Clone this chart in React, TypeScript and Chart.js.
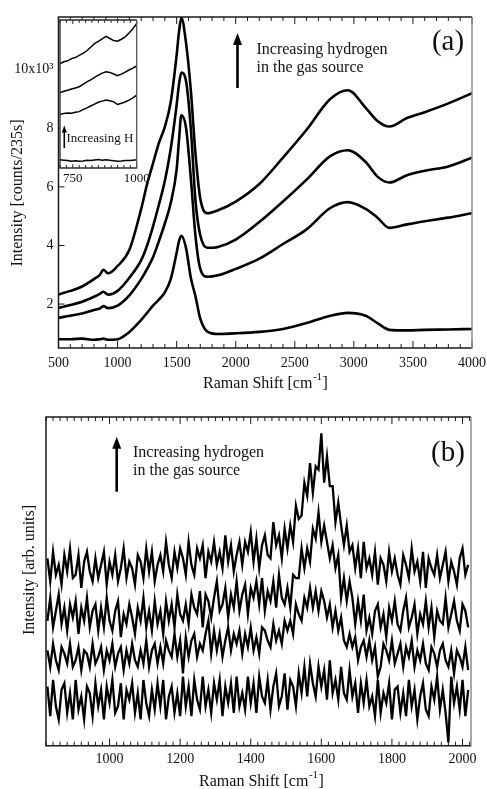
import React, { useEffect, useRef } from 'react';
import { Chart, registerables } from 'chart.js';
Chart.register(...registerables);

const SERIF = '"Liberation Serif", "DejaVu Serif", serif';

// ---------- Panel (a): Raman spectra, intensity in 10^3 counts / 235 s ----------
const SHIFT_A = [500, 600, 700, 800, 850, 880, 920, 1000, 1100, 1200, 1250, 1300, 1350, 1400, 1450, 1500, 1520, 1540, 1580, 1620, 1660, 1700, 1760, 1850, 2000, 2200, 2400, 2600, 2800, 2950, 3100, 3200, 3300, 3450, 3600, 3800, 4000];
const A1 = [2.33, 2.45, 2.6, 2.85, 3.0, 3.17, 3.05, 3.3, 3.85, 5.25, 6.1, 6.8, 7.5, 8.05, 8.9, 10.5, 11.3, 11.77, 10.9, 9.3, 7.1, 5.6, 5.1, 5.2, 5.5, 6.1, 7.0, 7.95, 9.0, 9.3, 8.7, 8.25, 8.06, 8.35, 8.55, 8.85, 9.2];
const A2 = [1.87, 1.97, 2.08, 2.25, 2.35, 2.42, 2.32, 2.45, 2.9, 3.5, 4.0, 4.65, 5.4, 6.2, 7.3, 8.8, 9.5, 9.9, 9.6, 8.0, 5.5, 4.35, 3.92, 3.95, 4.2, 4.8, 5.5, 6.25, 7.05, 7.25, 6.85, 6.35, 6.15, 6.4, 6.55, 6.7, 7.0];
const A3 = [1.53, 1.6, 1.68, 1.8, 1.85, 1.93, 1.86, 1.95, 2.3, 2.85, 3.2, 3.6, 4.15, 4.75, 5.45, 6.6, 7.6, 8.45, 8.0, 6.3, 4.3, 3.2, 2.93, 2.98, 3.2, 3.55, 4.05, 4.55, 5.28, 5.48, 5.25, 4.95, 4.6, 4.72, 4.83, 4.95, 5.1];
const A4 = [0.8, 0.8, 0.82, 0.78, 0.8, 0.82, 0.78, 0.8, 1.05, 1.46, 1.7, 1.95, 2.15, 2.4, 2.85, 3.75, 4.15, 4.33, 3.9, 2.9, 2.25, 1.5, 1.06, 0.98, 1.0, 1.05, 1.15, 1.35, 1.6, 1.7, 1.6, 1.35, 1.12, 1.1, 1.12, 1.13, 1.15];
const X_TICKS_A = [500, 1000, 1500, 2000, 2500, 3000, 3500, 4000];
const Y_TICKS_A = [2, 4, 6, 8, 10];
const Y_LABELS_A = ['2', '4', '6', '8', '10x10\u00B3'];

// ---------- Inset of panel (a): 700-1000 cm-1 ----------
const SHIFT_I = [700, 715, 730, 745, 760, 775, 790, 805, 820, 835, 850, 865, 880, 895, 910, 925, 940, 955, 970, 985, 1000];
const I1 = [70.5, 71.8, 72.4, 73.9, 74.6, 76.1, 77.4, 79.2, 81.6, 84.0, 85.6, 87.3, 88.9, 87.5, 86.1, 85.7, 87.0, 88.6, 91.2, 94.0, 97.6];
const I2 = [51.0, 51.9, 52.5, 53.4, 54.0, 54.9, 56.5, 58.2, 59.6, 61.3, 62.7, 64.1, 65.0, 64.6, 63.5, 62.3, 63.4, 64.8, 66.2, 67.5, 68.9];
const I3 = [36.2, 36.9, 37.2, 37.0, 37.6, 38.1, 39.4, 40.6, 41.9, 43.2, 44.4, 45.2, 45.9, 45.5, 44.7, 42.9, 43.8, 44.6, 45.9, 47.4, 49.2];
const I4 = [5.6, 5.3, 5.0, 4.6, 4.9, 4.5, 4.8, 5.2, 5.0, 5.4, 5.7, 5.3, 5.6, 5.2, 4.9, 4.6, 4.8, 5.1, 5.0, 5.3, 5.5];
const X_TICKS_I = [750, 1000];

// ---------- Panel (b): arb. units, sampled every 8 cm-1 from 824 cm-1 ----------
const B_START = 824;
const B_STEP = 8;
const B1 = [
  57, 50, 59, 52, 55, 49, 58, 53, 60, 51,
  52, 58, 48, 56, 59, 53, 50, 57, 51, 55,
  59, 49, 56, 52, 58, 50, 54, 60, 51, 56,
  54, 49, 58, 56, 51, 60, 53, 59, 50, 55,
  58, 53, 62, 55, 51, 59, 54, 60, 57, 52,
  62, 55, 52, 60, 57, 61, 51, 59, 56, 62,
  55, 59, 54, 64, 56, 61, 53, 58, 62, 55,
  62, 59, 65, 56, 63, 54, 61, 64, 58, 57,
  68, 61, 64, 57, 66, 60, 67, 62, 73, 69,
  70, 80, 76, 86, 77, 85, 84, 95, 80, 88,
  79, 79, 68, 74, 67, 61, 67, 59, 61, 54,
  60, 51, 62, 54, 57, 52, 59, 49, 57, 55,
  50, 59, 53, 57, 52, 49, 58, 55, 51, 60,
  53, 56, 50, 59, 48, 57, 54, 52, 58, 51,
  55, 59, 50, 56, 53, 49, 57, 60, 52, 55,
];
const B2 = [
  38, 45, 36, 41, 46, 37, 42, 35, 43, 39,
  44, 34, 42, 38, 45, 36, 41, 43, 35, 42,
  36, 45, 38, 35, 41, 44, 33, 40, 37, 43,
  39, 34, 42, 38, 45, 36, 41, 35, 44, 37,
  41, 34, 44, 38, 43, 36, 46, 40, 38, 43,
  37, 46, 42, 40, 47, 36, 46, 44, 39, 45,
  50, 41, 43, 48, 39, 46, 42, 50, 41, 46,
  49, 40, 48, 45, 50, 43, 51, 41, 47, 44,
  50, 42, 52, 45, 43, 48, 42, 52, 51, 51,
  60, 54, 60, 56, 66, 63, 71, 62, 67, 62,
  57, 61, 54, 58, 45, 51, 44, 50, 45, 37,
  44, 38, 46, 35, 39, 34, 41, 43, 36, 40,
  33, 42, 38, 44, 37, 35, 41, 45, 36, 39,
  43, 34, 40, 37, 44, 36, 42, 33, 41, 38,
  37, 45, 36, 40, 44, 38, 35, 43, 41, 36,
];
const B3 = [
  29, 24, 31, 26, 23, 30, 28, 25, 31, 24,
  26, 30, 23, 29, 28, 24, 31, 25, 27, 30,
  23, 29, 26, 31, 24, 28, 30, 23, 29, 25,
  31, 26, 24, 29, 25, 32, 24, 29, 31, 25,
  30, 25, 32, 29, 27, 34, 27, 32, 22, 33,
  27, 32, 34, 27, 31, 29, 34, 38, 28, 35,
  29, 34, 27, 32, 36, 29, 34, 31, 35, 28,
  34, 30, 36, 29, 33, 28, 36, 35, 32, 30,
  37, 32, 35, 31, 38, 35, 38, 34, 43, 40,
  38, 45, 42, 48, 42, 47, 41, 47, 44, 39,
  43, 36, 41, 35, 39, 32, 30, 34, 30, 33,
  26, 30, 32, 27, 32, 26, 30, 21, 24, 31,
  29, 26, 32, 25, 28, 31, 24, 30, 27, 32,
  24, 29, 26, 31, 25, 23, 30, 28, 24, 29,
  31, 26, 24, 29, 22, 29, 27, 24, 30, 23,
];
const B4 = [
  18, 9, 20, 12, 8, 17, 19, 10, 16, 8,
  20, 11, 15, 8, 18, 16, 9, 19, 12, 17,
  8, 18, 13, 20, 10, 12, 19, 8, 17, 14,
  19, 10, 16, 8, 20, 13, 9, 17, 11, 19,
  12, 20, 8, 15, 18, 10, 16, 9, 21, 12,
  18, 9, 20, 14, 11, 21, 12, 17, 10, 19,
  14, 20, 9, 18, 13, 19, 10, 21, 12, 16,
  11, 21, 13, 19, 10, 21, 15, 13, 20, 11,
  18, 22, 12, 15, 22, 11, 20, 18, 12, 22,
  16, 24, 15, 25, 19, 15, 24, 18, 23, 14,
  26, 16, 20, 14, 24, 16, 14, 23, 15, 19,
  10, 19, 13, 20, 12, 15, 9, 20, 10, 16,
  13, 19, 8, 17, 18, 10, 16, 9, 20, 12,
  17, 8, 15, 19, 11, 9, 18, 14, 21, 11,
  17, 10, 1, 21, 13, 18, 11, 20, 9, 17,
];
const X_TICKS_B = [1000, 1200, 1400, 1600, 1800, 2000];

// ---------- helpers ----------
type FrameOpts = {
  step: number; major: number; majLen: number; minLen: number;
  yTicks?: number[]; yLen?: number; color: string; rightColor: string; lw: number;
};

function drawFrame(chart: any, o: FrameOpts) {
  const { ctx, chartArea: a } = chart;
  const xs = chart.scales.x;
  const ys = chart.scales.y;
  ctx.save();
  ctx.strokeStyle = o.color;
  const seg = (x1: number, y1: number, x2: number, y2: number) => {
    ctx.beginPath(); ctx.moveTo(x1, y1); ctx.lineTo(x2, y2); ctx.stroke();
  };
  ctx.lineWidth = 1;
  const first = Math.ceil(xs.min / o.step - 1e-9) * o.step;
  for (let v = first; v <= xs.max + 1e-9; v += o.step) {
    const px = xs.getPixelForValue(v);
    const isMaj = Math.abs(v / o.major - Math.round(v / o.major)) < 1e-6;
    const L = isMaj ? o.majLen : o.minLen;
    seg(px, a.bottom, px, a.bottom - L);
    seg(px, a.top, px, a.top + L);
  }
  if (o.yTicks) {
    for (const v of o.yTicks) {
      const py = ys.getPixelForValue(v);
      seg(a.left, py, a.left + (o.yLen || 5), py);
    }
  }
  ctx.lineWidth = o.lw;
  seg(a.left, a.top, a.left, a.bottom);
  seg(a.left - o.lw / 2, a.bottom, a.right, a.bottom);
  seg(a.left - o.lw / 2, a.top, a.right, a.top);
  ctx.strokeStyle = o.rightColor;
  seg(a.right, a.top, a.right, a.bottom + o.lw / 2);
  ctx.restore();
}

function arrow(ctx: CanvasRenderingContext2D, x: number, yBottom: number, yTip: number, w: number, headW: number, headL: number) {
  ctx.save();
  ctx.fillStyle = '#000';
  ctx.fillRect(x - w / 2, yTip + headL - 1, w, yBottom - yTip - headL + 1);
  ctx.beginPath();
  ctx.moveTo(x, yTip);
  ctx.lineTo(x - headW / 2, yTip + headL);
  ctx.lineTo(x + headW / 2, yTip + headL);
  ctx.closePath();
  ctx.fill();
  ctx.restore();
}

function text(ctx: CanvasRenderingContext2D, s: string, x: number, y: number, size: number, align: CanvasTextAlign = 'left') {
  ctx.save();
  ctx.fillStyle = '#111';
  ctx.font = `${size}px ${SERIF}`;
  ctx.textAlign = align;
  ctx.textBaseline = 'middle';
  ctx.fillText(s, x, y);
  ctx.restore();
}

function vtext(ctx: CanvasRenderingContext2D, s: string, cx: number, cy: number, size: number) {
  ctx.save();
  ctx.translate(cx, cy);
  ctx.rotate(-Math.PI / 2);
  ctx.fillStyle = '#111';
  ctx.font = `${size}px ${SERIF}`;
  ctx.textAlign = 'center';
  ctx.textBaseline = 'middle';
  ctx.fillText(s, 0, 0);
  ctx.restore();
}

function ramanTitle(ctx: CanvasRenderingContext2D, cx: number, cy: number, size: number) {
  const main = 'Raman Shift [cm';
  const sup = '-1';
  const end = ']';
  ctx.save();
  ctx.fillStyle = '#111';
  ctx.textBaseline = 'middle';
  ctx.textAlign = 'left';
  ctx.font = `${size}px ${SERIF}`;
  const w1 = ctx.measureText(main).width;
  const w3 = ctx.measureText(end).width;
  const supSize = Math.round(size * 0.68);
  ctx.font = `${supSize}px ${SERIF}`;
  const w2 = ctx.measureText(sup).width;
  const x0 = cx - (w1 + w2 + w3) / 2;
  ctx.font = `${size}px ${SERIF}`;
  ctx.fillText(main, x0, cy);
  ctx.fillText(end, x0 + w1 + w2 + 1, cy);
  ctx.font = `${supSize}px ${SERIF}`;
  ctx.fillText(sup, x0 + w1 + 0.5, cy - size * 0.42);
  ctx.restore();
}

const lineDataset = (xs: number[], ys: number[], width: number, smooth: boolean) => ({
  data: xs.map((x, k) => ({ x, y: ys[k] })),
  borderColor: '#000',
  borderWidth: width,
  pointRadius: 0,
  fill: false,
  tension: 0,
  borderJoinStyle: 'miter',
  cubicInterpolationMode: smooth ? 'monotone' : 'default',
});

const noGrid = { display: false, drawTicks: false };
const noBorder = { display: false };

// ---------- configs ----------
function configA(): any {
  return {
    type: 'line',
    data: { datasets: [A1, A2, A3, A4].map((ys) => lineDataset(SHIFT_A, ys, 2.6, true)) },
    options: {
      responsive: false, animation: false, devicePixelRatio: 1,
      layout: { padding: { left: 0, top: 17, right: 15, bottom: 0 } },
      plugins: { legend: { display: false }, tooltip: { enabled: false } },
      scales: {
        x: {
          type: 'linear', min: 500, max: 4000, grid: noGrid, border: noBorder,
          afterBuildTicks: (s: any) => { s.ticks = X_TICKS_A.map((v) => ({ value: v })); },
          ticks: { autoSkip: false, maxRotation: 0, padding: 7, color: '#111', font: { size: 14, family: SERIF }, callback: (v: any) => String(v) },
          afterFit: (s: any) => { s.height = 47; s.paddingLeft = 0; s.paddingRight = 0; },
        },
        y: {
          type: 'linear', min: 0.5, max: 11.8, grid: noGrid, border: noBorder,
          afterBuildTicks: (s: any) => { s.ticks = Y_TICKS_A.map((v) => ({ value: v })); },
          ticks: { padding: 5, color: '#111', font: { size: 14, family: SERIF }, callback: (_v: any, i: number) => Y_LABELS_A[i] },
          afterFit: (s: any) => { s.width = 58.5; s.paddingTop = 0; s.paddingBottom = 0; },
        },
      },
    },
    plugins: [{
      id: 'decoA',
      afterDraw: (chart: any) => {
        const ctx = chart.ctx as CanvasRenderingContext2D;
        drawFrame(chart, { step: 100, major: 500, majLen: 7, minLen: 4, yTicks: Y_TICKS_A, yLen: 6, color: '#1a1a1a', rightColor: '#8c8c8c', lw: 1.5 });
        arrow(ctx, 237.5, 88, 33, 2.6, 9, 12);
        text(ctx, 'Increasing hydrogen', 256.5, 50, 16);
        text(ctx, 'in the gas source', 256.5, 67.5, 16);
        text(ctx, '(a)', 448, 42, 29, 'center');
        vtext(ctx, 'Intensity [counts/235s]', 18, 193, 16);
        ramanTitle(ctx, 265, 384, 16);
      },
    }],
  };
}

function configInset(): any {
  return {
    type: 'line',
    data: { datasets: [I1, I2, I3, I4].map((ys) => lineDataset(SHIFT_I, ys, 1.5, false)) },
    options: {
      responsive: false, animation: false, devicePixelRatio: 1,
      layout: { padding: { left: 5, top: 5, right: 18.3, bottom: 0 } },
      plugins: { legend: { display: false }, tooltip: { enabled: false } },
      scales: {
        x: {
          type: 'linear', min: 700, max: 1000, grid: noGrid, border: noBorder,
          afterBuildTicks: (s: any) => { s.ticks = X_TICKS_I.map((v) => ({ value: v })); },
          ticks: { autoSkip: false, maxRotation: 0, padding: 3, color: '#111', font: { size: 13, family: SERIF }, callback: (v: any) => String(v) },
          afterFit: (s: any) => { s.height = 22; s.paddingLeft = 0; s.paddingRight = 0; },
        },
        y: { type: 'linear', min: 0, max: 100, display: false },
      },
    },
    plugins: [{
      id: 'decoI',
      beforeDatasetsDraw: (chart: any) => {
        const { ctx, chartArea: a } = chart;
        ctx.save(); ctx.fillStyle = '#fff'; ctx.fillRect(a.left, a.top, a.right - a.left, a.bottom - a.top); ctx.restore();
      },
      afterDraw: (chart: any) => {
        const ctx = chart.ctx as CanvasRenderingContext2D;
        drawFrame(chart, { step: 25, major: 250, majLen: 4, minLen: 3, color: '#2a2a2a', rightColor: '#555', lw: 1.3 });
        arrow(ctx, 9.3, 133, 110.5, 1.6, 5, 7);
        text(ctx, 'Increasing H', 11.5, 124, 13);
      },
    }],
  };
}

function configB(): any {
  const xs = B1.map((_, i) => B_START + i * B_STEP);
  return {
    type: 'line',
    data: { datasets: [B1, B2, B3, B4].map((ys) => lineDataset(xs, ys, 2.3, false)) },
    options: {
      responsive: false, animation: false, devicePixelRatio: 1,
      layout: { padding: { left: 0, top: 22, right: 16, bottom: 0 } },
      plugins: { legend: { display: false }, tooltip: { enabled: false } },
      scales: {
        x: {
          type: 'linear', min: 820, max: 2024, grid: noGrid, border: noBorder,
          afterBuildTicks: (s: any) => { s.ticks = X_TICKS_B.map((v) => ({ value: v })); },
          ticks: { autoSkip: false, maxRotation: 0, padding: 5.5, color: '#111', font: { size: 14, family: SERIF }, callback: (v: any) => String(v) },
          afterFit: (s: any) => { s.height = 43.3; s.paddingLeft = 0; s.paddingRight = 0; },
        },
        y: {
          type: 'linear', min: 0, max: 100, grid: noGrid, border: noBorder,
          ticks: { display: false },
          afterFit: (s: any) => { s.width = 46; s.paddingTop = 0; s.paddingBottom = 0; },
        },
      },
    },
    plugins: [{
      id: 'decoB',
      afterDraw: (chart: any) => {
        const ctx = chart.ctx as CanvasRenderingContext2D;
        drawFrame(chart, { step: 20, major: 200, majLen: 7, minLen: 4, color: '#1a1a1a', rightColor: '#8c8c8c', lw: 1.5 });
        arrow(ctx, 116.7, 96.7, 41.7, 2.6, 9, 12);
        text(ctx, 'Increasing hydrogen', 133, 58, 16);
        text(ctx, 'in the gas source', 133, 75.7, 16);
        text(ctx, '(b)', 448, 58, 29, 'center');
        vtext(ctx, 'Intensity [arb. units]', 30, 175, 16);
        ramanTitle(ctx, 261, 387, 16);
      },
    }],
  };
}

export default function App() {
  const refA = useRef<HTMLCanvasElement>(null);
  const refI = useRef<HTMLCanvasElement>(null);
  const refB = useRef<HTMLCanvasElement>(null);

  useEffect(() => {
    Chart.defaults.font.family = SERIF;
    const a = new Chart(refA.current as HTMLCanvasElement, configA());
    const b = new Chart(refB.current as HTMLCanvasElement, configB());
    const i = new Chart(refI.current as HTMLCanvasElement, configInset());
    return () => { a.destroy(); b.destroy(); i.destroy(); };
  }, []);

  return (
    <div style={{ position: 'absolute', left: 0, top: 0, width: 487, height: 789, background: '#fff', overflow: 'hidden' }}>
      <canvas ref={refA} width={487} height={395} style={{ position: 'absolute', left: 0, top: 0 }} />
      <canvas ref={refB} width={487} height={394} style={{ position: 'absolute', left: 0, top: 395 }} />
      <canvas ref={refI} width={100} height={175} style={{ position: 'absolute', left: 55, top: 15 }} />
    </div>
  );
}
